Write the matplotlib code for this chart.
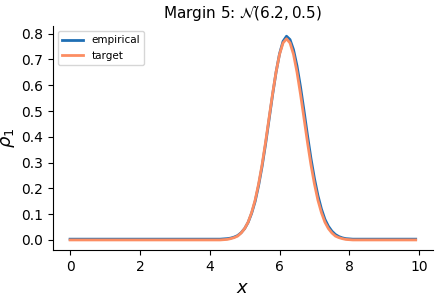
import numpy as np
import matplotlib
matplotlib.use("Agg")
import matplotlib.pyplot as plt

# grid 0.0 .. 9.9
x = np.round(np.arange(0, 10, 0.1), 1)

# values for x = 4.4 .. 8.0, flat elsewhere
empirical_peak = [0.004, 0.005, 0.007, 0.011, 0.017, 0.028, 0.044, 0.068, 0.103, 0.149,
                  0.211, 0.285, 0.372, 0.467, 0.562, 0.650, 0.722, 0.770, 0.790, 0.777,
                  0.738, 0.675, 0.594, 0.502, 0.406, 0.316, 0.238, 0.172, 0.120, 0.080,
                  0.053, 0.034, 0.021, 0.013, 0.008, 0.005, 0.004]
target_peak = [0.001, 0.002, 0.005, 0.009, 0.015, 0.027, 0.044, 0.069, 0.106, 0.154,
               0.217, 0.292, 0.379, 0.473, 0.566, 0.651, 0.720, 0.764, 0.780, 0.764,
               0.720, 0.651, 0.566, 0.473, 0.379, 0.292, 0.217, 0.154, 0.106, 0.069,
               0.044, 0.027, 0.015, 0.009, 0.005, 0.002, 0.001]
empirical = [0.003] * 44 + empirical_peak + [0.003] * 19
target = [0.0] * 44 + target_peak + [0.0] * 19

fig, ax = plt.subplots(figsize=(4.4, 2.96), dpi=100)
ax.plot(x, empirical, color="#1f6fb4", lw=2, label="empirical")
ax.plot(x, target, color="#fc8d62", lw=2, label="target")

ax.set_title(r"Margin 5: $\mathcal{N}(6.2, 0.5)$", fontsize=11)
ax.set_xlabel(r"$x$", fontsize=13)
ax.set_ylabel(r"$\rho_1$", fontsize=13, labelpad=3)
ax.set_yticks(np.arange(0, 0.81, 0.1))
ax.tick_params(labelsize=10)
ax.spines["top"].set_visible(False)
ax.spines["right"].set_visible(False)
ax.legend(loc="upper left", fontsize=7.5)

plt.subplots_adjust(left=0.12, right=0.984, bottom=0.155, top=0.912)
plt.savefig("out.png")
